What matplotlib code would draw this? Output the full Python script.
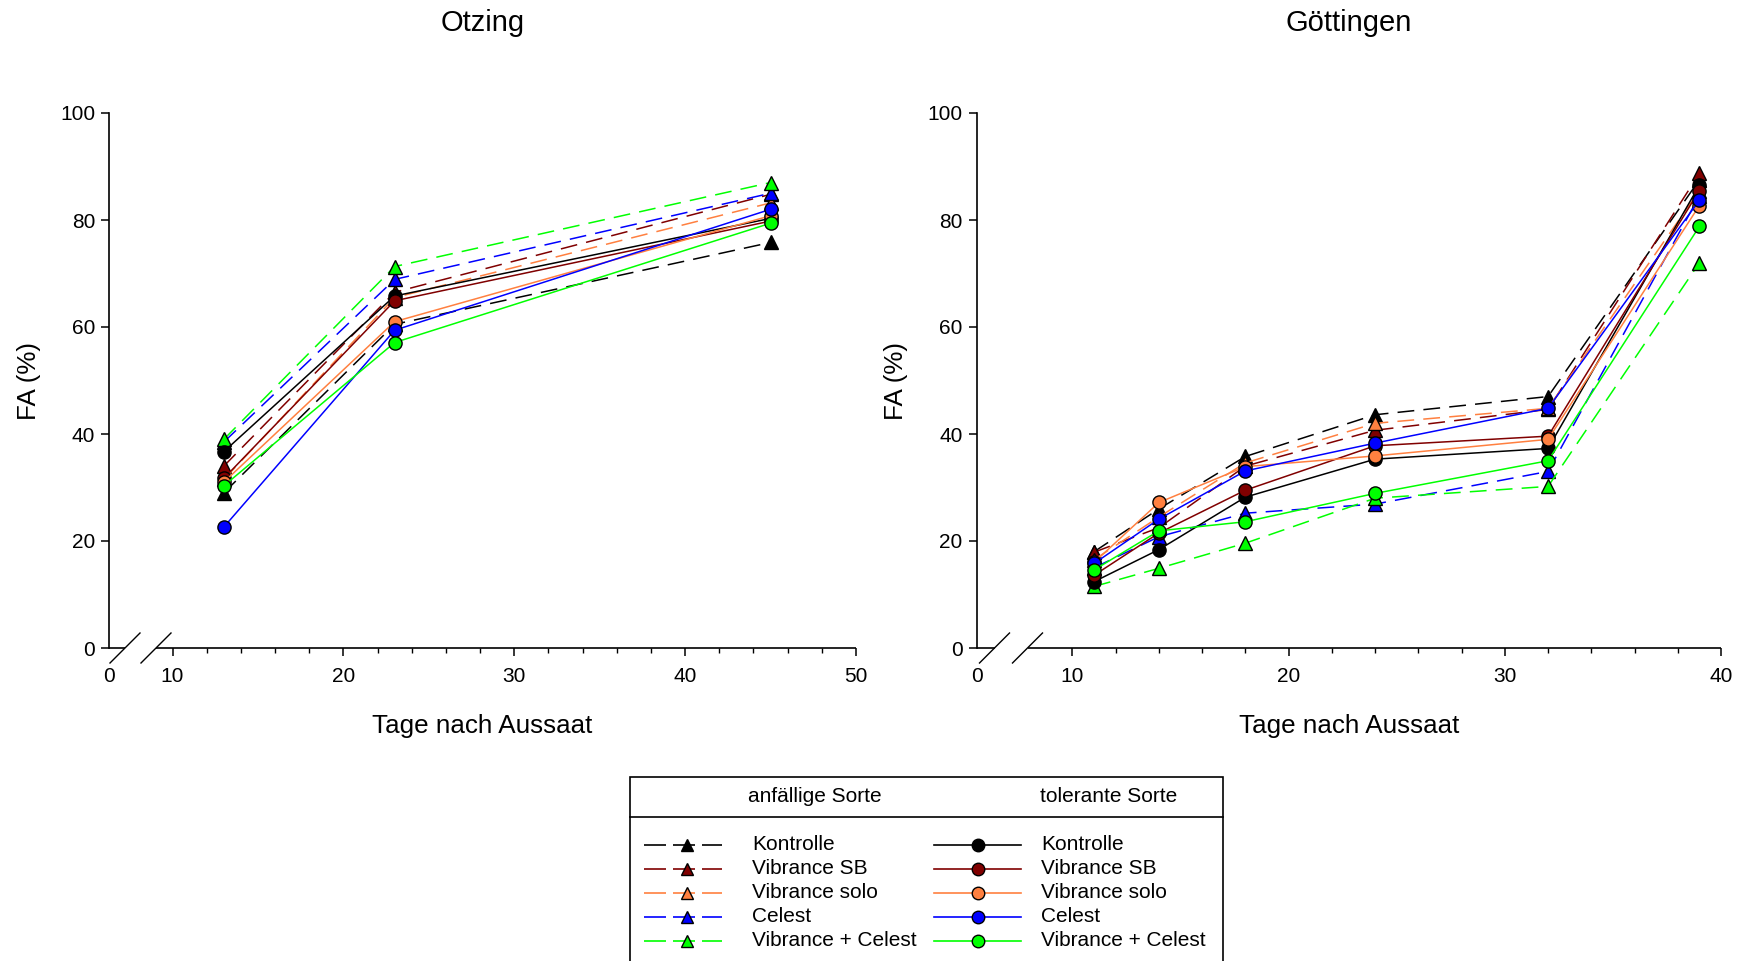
import numpy as np
import matplotlib
matplotlib.use("Agg")
import matplotlib.pyplot as plt
from matplotlib.lines import Line2D
from matplotlib.patches import Rectangle

plt.rcParams['font.family'] = ['Liberation Sans', 'DejaVu Sans']

# ---------------- data ----------------
series_names = ["Kontrolle", "Vibrance SB", "Vibrance solo", "Celest", "Vibrance + Celest"]
series_colors = ["#000000", "#800000", "#FF8040", "#0000FF", "#00FF00"]

otz_x = [13, 23, 45]
otz_anf = {
    "Kontrolle":         [29.0, 60.5, 75.8],
    "Vibrance SB":       [34.0, 66.5, 84.8],
    "Vibrance solo":     [31.5, 65.5, 83.2],
    "Celest":            [38.5, 68.9, 85.0],
    "Vibrance + Celest": [39.0, 71.3, 87.0],
}
otz_tol = {
    "Kontrolle":         [36.7, 65.8, 80.3],
    "Vibrance SB":       [31.7, 64.9, 79.8],
    "Vibrance solo":     [31.0, 61.0, 80.8],
    "Celest":            [22.6, 59.4, 82.0],
    "Vibrance + Celest": [30.3, 57.1, 79.4],
}

goe_x = [11, 14, 18, 24, 32, 39]
goe_anf = {
    "Kontrolle":         [18.0, 26.0, 35.8, 43.6, 47.0, 87.5],
    "Vibrance SB":       [17.9, 22.5, 34.0, 40.7, 44.6, 88.7],
    "Vibrance solo":     [16.5, 24.5, 34.6, 42.0, 44.8, 85.5],
    "Celest":            [15.0, 20.8, 25.2, 26.9, 33.0, 84.5],
    "Vibrance + Celest": [11.5, 14.9, 19.6, 28.0, 30.2, 72.0],
}
goe_tol = {
    "Kontrolle":         [12.4, 18.4, 28.2, 35.3, 37.3, 86.5],
    "Vibrance SB":       [13.6, 21.5, 29.5, 37.8, 39.6, 85.5],
    "Vibrance solo":     [16.0, 27.2, 33.9, 35.9, 39.0, 82.7],
    "Celest":            [15.8, 24.1, 33.1, 38.3, 44.8, 83.7],
    "Vibrance + Celest": [14.6, 21.9, 23.6, 28.9, 35.0, 78.8],
}

titles = ["Otzing", "Göttingen"]
xlabel = "Tage nach Aussaat"
ylabel = "FA (%)"
legend_headers = ["anfällige Sorte", "tolerante Sorte"]

# ---------------- figure ----------------
W, H = 1742, 961
fig = plt.figure(figsize=(W / 100, H / 100), dpi=100)

def fx(px):
    return px / W

def fy(py):
    return 1 - py / H

LW = 1.1
MS = 9.5
DASH = (0, (11, 6))

panels = [
    dict(x=otz_x, anf=otz_anf, tol=otz_tol, xmax=50, b0=6.28,
         left=109, right=856, gaps=(16, 47)),
    dict(x=goe_x, anf=goe_anf, tol=goe_tol, xmax=40, b0=5.56,
         left=976.5, right=1721, gaps=(18, 51)),
]
top_px, bot_px = 113, 648

for i, p in enumerate(panels):
    ax = fig.add_axes([fx(p["left"]), fy(bot_px), fx(p["right"] - p["left"]),
                       (bot_px - top_px) / H])
    b0 = p["b0"]

    def fwd(x, b0=b0):
        x = np.asarray(x, dtype=float)
        return np.where(x < 10, b0 + x * (10 - b0) / 10, x)

    def inv(y, b0=b0):
        y = np.asarray(y, dtype=float)
        return np.where(y < 10, (y - b0) * 10 / (10 - b0), y)

    ax.set_xscale('function', functions=(fwd, inv))

    for name, col in zip(series_names, series_colors):
        ax.plot(p["x"], p["anf"][name], linestyle=DASH, color=col, lw=LW,
                marker='^', ms=MS, mfc=col, mec='black', mew=1.0, clip_on=False)
    for name, col in zip(series_names, series_colors):
        ax.plot(p["x"], p["tol"][name], linestyle='-', color=col, lw=LW,
                marker='o', ms=MS, mfc=col, mec='black', mew=1.0, clip_on=False)

    ax.set_xlim(0, p["xmax"])
    ax.set_ylim(0, 100)
    ax.set_xticks(np.arange(0, p["xmax"] + 1, 10))
    ax.set_xticks([v for v in range(12, p["xmax"], 2) if v % 10], minor=True)
    ax.set_yticks(np.arange(0, 101, 20))

    for s in ['top', 'right', 'bottom']:
        ax.spines[s].set_visible(False)
    ax.spines['left'].set_linewidth(1.2)

    ax.tick_params(axis='both', which='major', direction='out', length=6,
                   width=1.1, labelsize=15)
    ax.tick_params(axis='x', which='major', pad=8)
    ax.tick_params(axis='y', which='major', pad=4)
    ax.tick_params(axis='x', which='minor', direction='out', length=3.3, width=1.0)
    ax.xaxis.get_major_ticks()[0].tick1line.set_visible(False)

    # broken bottom axis
    wpx = p["right"] - p["left"]
    hpx = bot_px - top_px
    g0 = p["gaps"][0] / wpx
    g1 = p["gaps"][1] / wpx
    kw = dict(transform=ax.transAxes, color='black', lw=1.2, clip_on=False,
              solid_capstyle='butt')
    ax.plot([0, g0], [0, 0], **kw)
    ax.plot([g1, 1], [0, 0], **kw)
    dx, dy = 15 / wpx, 15 / hpx
    for g in (g0, g1):
        ax.plot([g - dx, g + dx], [-dy, dy], color='black', lw=1.0,
                transform=ax.transAxes, clip_on=False)

    ax.set_title(titles[i], fontsize=21, pad=59)
    ax.set_xlabel(xlabel, fontsize=18.7, labelpad=20)
    ax.set_ylabel(ylabel, fontsize=18.7, labelpad=14)

# ---------------- legend (manual) ----------------
box = Rectangle((fx(630), fy(975)), fx(1223 - 630), (975 - 777) / H,
                transform=fig.transFigure, fill=False, ec='black', lw=1.2)
fig.add_artist(box)
fig.add_artist(Line2D([fx(630), fx(1223)], [fy(817), fy(817)],
                      transform=fig.transFigure, color='black', lw=1.2))
fig.text(fx(815), fy(796), legend_headers[0], fontsize=15, ha='center', va='center')
fig.text(fx(1109), fy(796), legend_headers[1], fontsize=15, ha='center', va='center')

row_y = [845, 869, 893, 917, 941]
for name, col, ry in zip(series_names, series_colors, row_y):
    # anfällige: dashed with triangle
    fig.add_artist(Line2D([fx(644), fx(722)], [fy(ry), fy(ry)], transform=fig.transFigure,
                          color=col, lw=1.2, linestyle=(0, (13.2, 4.2))))
    fig.add_artist(Line2D([fx(687)], [fy(ry)], transform=fig.transFigure, linestyle='none',
                          marker='^', ms=9, mfc=col, mec='black', mew=1.0))
    fig.text(fx(752), fy(ry), name, fontsize=15, ha='left', va='center')
    # tolerante: solid with circle
    fig.add_artist(Line2D([fx(934), fx(1021)], [fy(ry), fy(ry)], transform=fig.transFigure,
                          color=col, lw=1.2))
    fig.add_artist(Line2D([fx(978)], [fy(ry)], transform=fig.transFigure, linestyle='none',
                          marker='o', ms=9, mfc=col, mec='black', mew=1.0))
    fig.text(fx(1041), fy(ry), name, fontsize=15, ha='left', va='center')

fig.savefig("out.png", dpi=100)
